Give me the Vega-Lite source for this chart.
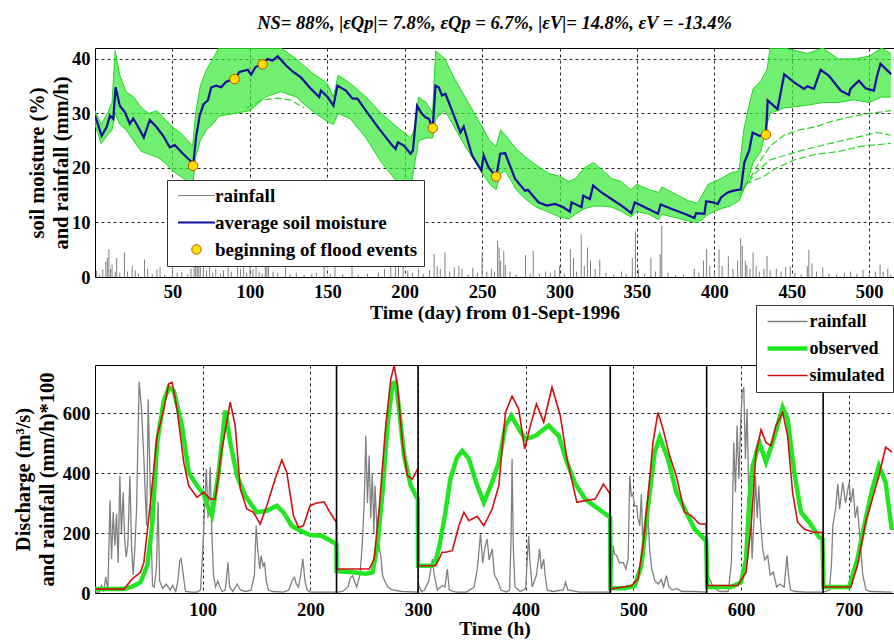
{
"$schema": "https://vega.github.io/schema/vega-lite/v6.json",
"padding": {"left": 12, "top": 14, "right": 0, "bottom": 0},
"title": {"text": "NS= 88%, |εQp|= 7.8%, εQp = 6.7%, |εV|= 14.8%, εV = -13.4%", "font": "Liberation Serif", "fontSize": 18.5, "fontStyle": "italic", "fontWeight": "bold", "anchor": "middle", "frame": "group", "offset": 15, "color": "black"},
"bounds": "flush",
"spacing": 88,
"resolve": {"scale": {"x": "independent", "y": "independent", "stroke": "independent"}, "legend": {"stroke": "independent"}},
"config": {
  "view": {"stroke": "black", "strokeWidth": 1},
  "axis": {"labelFont": "Liberation Serif", "labelFontSize": 18.5, "labelFontWeight": "bold", "labelColor": "black", "titleFont": "Liberation Serif", "titleFontSize": 19.5, "titleFontWeight": "bold", "titleColor": "black", "domain": false, "ticks": false, "gridColor": "black", "gridDash": [3, 3], "gridOpacity": 0.85, "gridWidth": 1, "labelPadding": 5},
  "legend": {"labelFont": "Liberation Serif", "labelFontWeight": "bold", "labelColor": "black", "fillColor": "white", "strokeColor": "#333333", "labelLimit": 400}
},
"datasets": {
  "band": [
{"d":0,"lo":28,"hi":30.5},{"d":4,"lo":24.5,"hi":28},{"d":8,"lo":26,"hi":30},{"d":11,"lo":27,"hi":32},{"d":13,"lo":30,"hi":41.5},{"d":16,"lo":28,"hi":37},{"d":20,"lo":27,"hi":34},{"d":25,"lo":25,"hi":33},{"d":30,"lo":23,"hi":31},{"d":35,"lo":22.5,"hi":30},{"d":40,"lo":22,"hi":30.5},{"d":45,"lo":21,"hi":29},{"d":50,"lo":19.5,"hi":27.5},{"d":55,"lo":18.5,"hi":26.5},{"d":60,"lo":17.5,"hi":25},{"d":63,"lo":16.5,"hi":24},{"d":65,"lo":22,"hi":30},{"d":68,"lo":25,"hi":35},{"d":72,"lo":27,"hi":38},{"d":76,"lo":28,"hi":40},{"d":80,"lo":29.5,"hi":42},{"d":90,"lo":30,"hi":42},{"d":100,"lo":30.5,"hi":42},{"d":110,"lo":33,"hi":42},{"d":120,"lo":34,"hi":42},{"d":130,"lo":33,"hi":40},{"d":140,"lo":30.5,"hi":37.5},{"d":150,"lo":28.5,"hi":35.5},{"d":154,"lo":28,"hi":33},{"d":157,"lo":30,"hi":37},{"d":165,"lo":29,"hi":35.5},{"d":175,"lo":25.5,"hi":33},{"d":185,"lo":21,"hi":30},{"d":195,"lo":17.5,"hi":27.5},{"d":204,"lo":16.5,"hi":25.5},{"d":206,"lo":20,"hi":27},{"d":209,"lo":25,"hi":33},{"d":214,"lo":25.5,"hi":32},{"d":218,"lo":25.5,"hi":30},{"d":220,"lo":29,"hi":41.5},{"d":226,"lo":30.5,"hi":40},{"d":231,"lo":28,"hi":37},{"d":239,"lo":24,"hi":33},{"d":248,"lo":20,"hi":28.5},{"d":255,"lo":17,"hi":25},{"d":259,"lo":16,"hi":24},{"d":262,"lo":19,"hi":27},{"d":265,"lo":19.5,"hi":26},{"d":272,"lo":16,"hi":23.5},{"d":278,"lo":14.3,"hi":22},{"d":285,"lo":12.8,"hi":20.5},{"d":293,"lo":11.9,"hi":19},{"d":300,"lo":11,"hi":18.5},{"d":306,"lo":10.6,"hi":17.5},{"d":310,"lo":11.5,"hi":18},{"d":316,"lo":12.5,"hi":20},{"d":322,"lo":13,"hi":21},{"d":328,"lo":13,"hi":19.5},{"d":334,"lo":12.8,"hi":18},{"d":340,"lo":12,"hi":17.5},{"d":346,"lo":11,"hi":16},{"d":350,"lo":12,"hi":17},{"d":358,"lo":11.5,"hi":16},{"d":364,"lo":10.5,"hi":15.5},{"d":366,"lo":11.5,"hi":16.5},{"d":373,"lo":11,"hi":15.5},{"d":383,"lo":10.3,"hi":14},{"d":389,"lo":10,"hi":13.5},{"d":392,"lo":10.5,"hi":15},{"d":396,"lo":11.5,"hi":17},{"d":404,"lo":12.5,"hi":18},{"d":410,"lo":13,"hi":19},{"d":416,"lo":14,"hi":19.5},{"d":419,"lo":16,"hi":27},{"d":422,"lo":18,"hi":31},{"d":425,"lo":21,"hi":34.5},{"d":430,"lo":23,"hi":36},{"d":434,"lo":28,"hi":38},{"d":436,"lo":30,"hi":42},{"d":445,"lo":31,"hi":42},{"d":460,"lo":31.5,"hi":41},{"d":470,"lo":32,"hi":42},{"d":480,"lo":32,"hi":40},{"d":490,"lo":32.5,"hi":40},{"d":500,"lo":32,"hi":40.5},{"d":508,"lo":33,"hi":42},{"d":514,"lo":33,"hi":41}
  ],
  "ens": [
{"m":"o1","d":98,"v":31},{"m":"o1","d":108,"v":32.5},{"m":"o1","d":118,"v":32.8},{"m":"o1","d":126,"v":32.5},{"m":"o1","d":135,"v":31},
{"m":"o2","d":416,"v":15},{"m":"o2","d":425,"v":19},{"m":"o2","d":430,"v":21.5},{"m":"o2","d":436,"v":24},{"m":"o2","d":445,"v":26},{"m":"o2","d":455,"v":27},{"m":"o2","d":465,"v":27.5},{"m":"o2","d":475,"v":28.5},{"m":"o2","d":490,"v":29.5},{"m":"o2","d":500,"v":30},{"m":"o2","d":514,"v":30.5},
{"m":"o3","d":418,"v":16},{"m":"o3","d":428,"v":19.5},{"m":"o3","d":436,"v":21.5},{"m":"o3","d":448,"v":22.5},{"m":"o3","d":460,"v":23.5},{"m":"o3","d":475,"v":24.5},{"m":"o3","d":490,"v":25.5},{"m":"o3","d":505,"v":26.5},{"m":"o3","d":514,"v":26},
{"m":"o4","d":420,"v":17},{"m":"o4","d":432,"v":18.5},{"m":"o4","d":440,"v":20},{"m":"o4","d":452,"v":21.5},{"m":"o4","d":465,"v":22.5},{"m":"o4","d":480,"v":23},{"m":"o4","d":495,"v":24},{"m":"o4","d":514,"v":24.5}
  ],
  "sm": [
{"d":0,"v":29.6},{"d":4.3,"v":25.9},{"d":7.5,"v":27.5},{"d":9.7,"v":29.6},{"d":11.8,"v":29},{"d":13.3,"v":34.8},{"d":16,"v":31.4},{"d":19.3,"v":30.2},{"d":22.5,"v":28.1},{"d":24.7,"v":29.1},{"d":27.9,"v":27.5},{"d":31.5,"v":25.6},{"d":35.4,"v":28.8},{"d":39.7,"v":27.5},{"d":44,"v":25.9},{"d":48.3,"v":23.8},{"d":51.5,"v":24.2},{"d":56.8,"v":22.6},{"d":62.8,"v":21},{"d":63.3,"v":20.4},{"d":65.4,"v":25.9},{"d":67.6,"v":29.6},{"d":70.1,"v":31.7},{"d":72.9,"v":32.4},{"d":75.1,"v":34.8},{"d":78.3,"v":35.1},{"d":81.5,"v":34.8},{"d":84.7,"v":35.8},{"d":90.1,"v":36.3},{"d":93.3,"v":37.6},{"d":98.7,"v":38},{"d":100.8,"v":37.1},{"d":103.6,"v":38.5},{"d":108.3,"v":39},{"d":111.5,"v":40},{"d":114.7,"v":39.7},{"d":118,"v":40.5},{"d":123.4,"v":38.8},{"d":127.6,"v":37.7},{"d":133,"v":36.6},{"d":139.5,"v":34.5},{"d":144.8,"v":33},{"d":145.9,"v":34.2},{"d":150.2,"v":33},{"d":154,"v":31.4},{"d":156.6,"v":35.1},{"d":162,"v":34.2},{"d":166.3,"v":32.7},{"d":169.5,"v":32.7},{"d":174.9,"v":30.5},{"d":183.4,"v":27.2},{"d":192,"v":24.1},{"d":194.1,"v":23.5},{"d":195.6,"v":24.7},{"d":199.5,"v":24.1},{"d":203.8,"v":22.6},{"d":205.3,"v":23.2},{"d":208,"v":31.4},{"d":211.3,"v":29.9},{"d":213.4,"v":29.3},{"d":215.6,"v":29},{"d":218.1,"v":27.3},{"d":219.9,"v":35.1},{"d":222,"v":34.8},{"d":224.1,"v":33.3},{"d":226.3,"v":33.6},{"d":230.6,"v":30.5},{"d":236,"v":26.5},{"d":238.1,"v":27.6},{"d":243.5,"v":22.3},{"d":249.5,"v":19.5},{"d":251,"v":22.3},{"d":254.2,"v":20.1},{"d":259.1,"v":18.4},{"d":261.7,"v":22.6},{"d":264.9,"v":22.7},{"d":271.3,"v":18},{"d":277.8,"v":15.8},{"d":279.5,"v":16},{"d":286.4,"v":13.7},{"d":291.7,"v":13.1},{"d":297.1,"v":13.4},{"d":302.4,"v":12.8},{"d":306.7,"v":12},{"d":307.8,"v":13.7},{"d":314.2,"v":12.8},{"d":315.3,"v":14.9},{"d":319.6,"v":14.3},{"d":321.7,"v":16.8},{"d":327.1,"v":15.5},{"d":333.5,"v":14.3},{"d":340,"v":13.1},{"d":346.4,"v":11.7},{"d":348.6,"v":13.7},{"d":355,"v":12.8},{"d":363.6,"v":11.6},{"d":365.3,"v":13.3},{"d":372.1,"v":12.5},{"d":380.7,"v":11.6},{"d":387.1,"v":10.8},{"d":388.2,"v":11.7},{"d":393.6,"v":11.6},{"d":394.7,"v":13.9},{"d":399,"v":13.7},{"d":402.2,"v":13.4},{"d":404.3,"v":14.6},{"d":408.6,"v":15.5},{"d":411.8,"v":15.8},{"d":417.2,"v":16.1},{"d":419.3,"v":21},{"d":422.5,"v":23.2},{"d":424.7,"v":26.5},{"d":429,"v":25.9},{"d":433.3,"v":26.1},{"d":434.4,"v":32.4},{"d":440.8,"v":30.8},{"d":445.1,"v":37.2},{"d":451.5,"v":35.7},{"d":457.9,"v":34.5},{"d":460.1,"v":35},{"d":464.3,"v":34.5},{"d":468.6,"v":38},{"d":474,"v":36.9},{"d":481.5,"v":34.2},{"d":486.9,"v":33.4},{"d":487.9,"v":34.5},{"d":493.3,"v":36},{"d":497.6,"v":34.6},{"d":503,"v":34.2},{"d":505.1,"v":36.9},{"d":507.3,"v":39.1},{"d":511.6,"v":37.9},{"d":514.2,"v":37.2}
  ],
  "flood": [
{"d":63.3,"v":20.4},{"d":90.1,"v":36.3},{"d":108.3,"v":39},{"d":218.1,"v":27.3},{"d":259.1,"v":18.4},{"d":433.3,"v":26.1}
  ],
  "rain1": [
{"d":1,"r":1.1},{"d":3,"r":0.5},{"d":5,"r":1.4},{"d":7,"r":2.9},{"d":8,"r":3.5},{"d":9,"r":5.1},{"d":10,"r":1.5},{"d":11,"r":2.3},{"d":13,"r":1},{"d":14,"r":3.5},{"d":16,"r":0.8},{"d":19,"r":4.5},{"d":21,"r":1},{"d":24,"r":2},{"d":26,"r":1.2},{"d":28,"r":0.6},{"d":32,"r":3.2},{"d":34,"r":1.5},{"d":37,"r":0.5},{"d":40,"r":1.4},{"d":42,"r":1.8},{"d":45,"r":0.4},{"d":50,"r":2},{"d":53,"r":0.8},{"d":56,"r":1},{"d":60,"r":0.5},{"d":62,"r":1.5},{"d":64,"r":4.5},{"d":65,"r":3.9},{"d":66,"r":2.5},{"d":67,"r":3.2},{"d":68,"r":1.8},{"d":70,"r":2},{"d":72,"r":1.2},{"d":74,"r":2.2},{"d":76,"r":0.8},{"d":78,"r":1.5},{"d":81,"r":0.6},{"d":83,"r":1.2},{"d":86,"r":2},{"d":88,"r":1},{"d":92,"r":4.5},{"d":94,"r":1.5},{"d":96,"r":2},{"d":98,"r":0.8},{"d":100,"r":3.2},{"d":102,"r":1.5},{"d":104,"r":2},{"d":106,"r":1},{"d":108,"r":0.6},{"d":110,"r":3.9},{"d":111,"r":3.2},{"d":112,"r":2.5},{"d":115,"r":1},{"d":118,"r":0.8},{"d":123,"r":2},{"d":126,"r":0.5},{"d":130,"r":0.8},{"d":135,"r":0.4},{"d":140,"r":0.6},{"d":143,"r":0.8},{"d":148,"r":2},{"d":152,"r":0.6},{"d":155,"r":4.2},{"d":160,"r":0.5},{"d":166,"r":2.6},{"d":170,"r":0.5},{"d":176,"r":0.6},{"d":183,"r":0.8},{"d":187,"r":1.5},{"d":191,"r":2.3},{"d":194,"r":2.5},{"d":196,"r":1.8},{"d":199,"r":3.2},{"d":202,"r":1.2},{"d":205,"r":0.8},{"d":209,"r":1.5},{"d":212,"r":0.6},{"d":216,"r":1.3},{"d":219,"r":4.2},{"d":221,"r":2},{"d":223,"r":1.5},{"d":226,"r":4.5},{"d":229,"r":1},{"d":232,"r":1.8},{"d":235,"r":2},{"d":237,"r":1.5},{"d":241,"r":0.5},{"d":244,"r":1.7},{"d":247,"r":0.8},{"d":250,"r":4.5},{"d":253,"r":1},{"d":256,"r":1.5},{"d":258,"r":1},{"d":260,"r":6.6},{"d":261,"r":5.4},{"d":262,"r":3},{"d":264,"r":4.8},{"d":265,"r":2.2},{"d":268,"r":1},{"d":272,"r":0.5},{"d":278,"r":4},{"d":281,"r":0.6},{"d":283,"r":4.8},{"d":287,"r":0.6},{"d":291,"r":1},{"d":294,"r":0.8},{"d":297,"r":1.2},{"d":300,"r":2},{"d":303,"r":0.6},{"d":307,"r":5.1},{"d":309,"r":3.5},{"d":311,"r":1},{"d":314,"r":7.8},{"d":316,"r":2},{"d":318,"r":5.4},{"d":320,"r":3},{"d":323,"r":1.5},{"d":326,"r":3.2},{"d":330,"r":0.8},{"d":335,"r":0.5},{"d":340,"r":1},{"d":343,"r":0.6},{"d":347,"r":3.5},{"d":349,"r":8.4},{"d":351,"r":1.5},{"d":355,"r":0.6},{"d":359,"r":3.5},{"d":362,"r":1},{"d":365,"r":4.2},{"d":366,"r":9.4},{"d":370,"r":0.8},{"d":375,"r":0.4},{"d":380,"r":0.5},{"d":387,"r":1.5},{"d":390,"r":0.8},{"d":393,"r":3},{"d":395,"r":5.1},{"d":397,"r":2},{"d":400,"r":1},{"d":403,"r":5.1},{"d":405,"r":2},{"d":409,"r":3.9},{"d":412,"r":1.5},{"d":415,"r":3},{"d":417,"r":7.1},{"d":418,"r":5.7},{"d":420,"r":3},{"d":421,"r":2.2},{"d":423,"r":1.5},{"d":425,"r":4.5},{"d":427,"r":2},{"d":429,"r":1},{"d":432,"r":1.5},{"d":434,"r":3.9},{"d":436,"r":1.2},{"d":440,"r":1.5},{"d":443,"r":1},{"d":446,"r":1.8},{"d":449,"r":2},{"d":452,"r":0.8},{"d":456,"r":0.5},{"d":460,"r":2},{"d":461,"r":5},{"d":463,"r":2.5},{"d":466,"r":1},{"d":470,"r":1.8},{"d":474,"r":0.6},{"d":479,"r":0.5},{"d":484,"r":0.8},{"d":488,"r":1},{"d":492,"r":0.6},{"d":496,"r":1.3},{"d":500,"r":0.5},{"d":504,"r":1},{"d":507,"r":2.3},{"d":509,"r":1},{"d":512,"r":1.5},{"d":514,"r":0.5}
  ],
  "rain2": [
{"t":0,"r":3},{"t":4,"r":3},{"t":6,"r":25},{"t":8,"r":5},{"t":10,"r":53},{"t":12,"r":10},{"t":13.9,"r":308},{"t":15.4,"r":114},{"t":16.9,"r":269},{"t":18.5,"r":158},{"t":20,"r":263},{"t":21.5,"r":100},{"t":23.1,"r":391},{"t":24.5,"r":200},{"t":26.2,"r":336},{"t":27.5,"r":180},{"t":29,"r":120},{"t":30.5,"r":160},{"t":32.4,"r":391},{"t":34,"r":150},{"t":35.5,"r":60},{"t":37,"r":150},{"t":38.6,"r":280},{"t":41,"r":704},{"t":43.2,"r":613},{"t":45.4,"r":446},{"t":47,"r":300},{"t":48,"r":224},{"t":49.4,"r":646},{"t":51,"r":400},{"t":52.5,"r":150},{"t":53.4,"r":24},{"t":55,"r":20},{"t":57,"r":80},{"t":58.6,"r":304},{"t":60,"r":40},{"t":63,"r":15},{"t":66,"r":30},{"t":70,"r":10},{"t":72,"r":25},{"t":75,"r":5},{"t":77,"r":40},{"t":78.7,"r":108},{"t":80,"r":115},{"t":82,"r":60},{"t":84,"r":5},{"t":90,"r":3},{"t":95,"r":3},{"t":98,"r":10},{"t":100.3,"r":158},{"t":102,"r":300},{"t":103.4,"r":413},{"t":105,"r":250},{"t":107,"r":420},{"t":108.5,"r":200},{"t":110,"r":60},{"t":112,"r":20},{"t":114,"r":40},{"t":116,"r":20},{"t":118,"r":5},{"t":121,"r":10},{"t":123.5,"r":102},{"t":125,"r":20},{"t":128,"r":5},{"t":132,"r":30},{"t":135,"r":10},{"t":140,"r":5},{"t":145,"r":10},{"t":148,"r":60},{"t":149.7,"r":224},{"t":151,"r":150},{"t":153,"r":80},{"t":154.3,"r":125},{"t":156,"r":90},{"t":157.4,"r":102},{"t":159,"r":40},{"t":161,"r":10},{"t":165,"r":5},{"t":175,"r":3},{"t":180,"r":10},{"t":183,"r":40},{"t":185.2,"r":53},{"t":187,"r":30},{"t":189,"r":20},{"t":191,"r":60},{"t":193,"r":114},{"t":195,"r":40},{"t":197,"r":10},{"t":200,"r":3},{"t":210,"r":3},{"t":224,"r":3},
{"t":225,"r":3},{"t":230,"r":5},{"t":235,"r":20},{"t":237,"r":50},{"t":239.2,"r":58},{"t":241,"r":40},{"t":243,"r":20},{"t":246,"r":60},{"t":248,"r":150},{"t":250,"r":300},{"t":251.5,"r":524},{"t":253,"r":300},{"t":254.6,"r":458},{"t":256,"r":250},{"t":257.5,"r":400},{"t":259,"r":200},{"t":260,"r":358},{"t":262,"r":200},{"t":264,"r":150},{"t":265.4,"r":125},{"t":267,"r":60},{"t":269,"r":40},{"t":272,"r":20},{"t":276,"r":10},{"t":285,"r":5},{"t":300,"r":3},
{"t":300.9,"r":25},{"t":303,"r":5},{"t":306,"r":10},{"t":310,"r":40},{"t":313.3,"r":113},{"t":315,"r":60},{"t":318,"r":10},{"t":322.5,"r":25},{"t":325,"r":20},{"t":327.2,"r":80},{"t":329,"r":10},{"t":335,"r":3},{"t":345,"r":3},{"t":352,"r":20},{"t":355,"r":80},{"t":358,"r":197},{"t":360,"r":100},{"t":362,"r":150},{"t":364.2,"r":180},{"t":366,"r":110},{"t":368.8,"r":147},{"t":371,"r":60},{"t":374,"r":40},{"t":377,"r":10},{"t":382,"r":3},{"t":385,"r":10},{"t":386.5,"r":200},{"t":387.3,"r":447},{"t":388.5,"r":150},{"t":390,"r":20},{"t":395,"r":5},{"t":400,"r":15},{"t":401.5,"r":120},{"t":402.8,"r":191},{"t":404,"r":100},{"t":406,"r":20},{"t":410,"r":60},{"t":412.9,"r":147},{"t":414.5,"r":80},{"t":416.7,"r":113},{"t":418,"r":60},{"t":420,"r":10},{"t":425,"r":5},{"t":435,"r":10},{"t":437,"r":36},{"t":439,"r":10},{"t":450,"r":3},{"t":478,"r":3},
{"t":479,"r":5},{"t":481.2,"r":158},{"t":482.5,"r":130},{"t":484.3,"r":125},{"t":487,"r":100},{"t":490.5,"r":102},{"t":493,"r":80},{"t":495.1,"r":113},{"t":496.6,"r":391},{"t":498.1,"r":324},{"t":499.5,"r":330},{"t":501,"r":290},{"t":503,"r":291},{"t":504.3,"r":247},{"t":505.9,"r":224},{"t":507.4,"r":330},{"t":509,"r":130},{"t":511,"r":200},{"t":513,"r":291},{"t":515,"r":150},{"t":517,"r":80},{"t":520,"r":40},{"t":523,"r":30},{"t":526,"r":45},{"t":528,"r":20},{"t":530.6,"r":58},{"t":533,"r":20},{"t":536,"r":10},{"t":540,"r":15},{"t":545,"r":5},{"t":555,"r":5},{"t":568,"r":3},
{"t":568.5,"r":58},{"t":571,"r":45},{"t":574,"r":20},{"t":580,"r":5},{"t":588,"r":5},{"t":591,"r":100},{"t":593.2,"r":502},{"t":594.8,"r":336},{"t":596.3,"r":558},{"t":598,"r":380},{"t":599.4,"r":547},{"t":601,"r":669},{"t":602.5,"r":686},{"t":604,"r":447},{"t":605.6,"r":613},{"t":607.1,"r":313},{"t":608.5,"r":400},{"t":610.2,"r":113},{"t":612,"r":250},{"t":613.3,"r":391},{"t":615,"r":250},{"t":616.4,"r":358},{"t":617.9,"r":247},{"t":620,"r":150},{"t":622,"r":110},{"t":624.7,"r":125},{"t":627,"r":60},{"t":630,"r":70},{"t":633,"r":20},{"t":636,"r":30},{"t":640,"r":20},{"t":642.6,"r":125},{"t":644,"r":60},{"t":646,"r":10},{"t":650,"r":5},{"t":660,"r":3},{"t":676,"r":3},
{"t":676.5,"r":3},{"t":682,"r":10},{"t":684,"r":100},{"t":685.2,"r":224},{"t":687.7,"r":280},{"t":689.8,"r":363},{"t":691.5,"r":280},{"t":694.4,"r":369},{"t":697,"r":300},{"t":700.3,"r":369},{"t":702,"r":300},{"t":704,"r":350},{"t":706,"r":250},{"t":708,"r":290},{"t":711.4,"r":136},{"t":713,"r":60},{"t":716,"r":10},{"t":720,"r":5},{"t":740,"r":3}
  ],
  "q": [
{"s":"observed","t":0,"q":13},{"s":"observed","t":26.9,"q":13},{"s":"observed","t":35,"q":22},{"s":"observed","t":42.3,"q":36},{"s":"observed","t":48.5,"q":91},{"s":"observed","t":53.1,"q":224},{"s":"observed","t":57.7,"q":502},{"s":"observed","t":63.9,"q":641},{"s":"observed","t":68.5,"q":686},{"s":"observed","t":73.1,"q":674},{"s":"observed","t":80.8,"q":558},{"s":"observed","t":87,"q":402},{"s":"observed","t":94.7,"q":358},{"s":"observed","t":100.9,"q":330},{"s":"observed","t":105.6,"q":280},{"s":"observed","t":108.6,"q":258},{"s":"observed","t":114.8,"q":402},{"s":"observed","t":121,"q":608},{"s":"observed","t":125.6,"q":502},{"s":"observed","t":131.8,"q":391},{"s":"observed","t":139.5,"q":324},{"s":"observed","t":150.3,"q":269},{"s":"observed","t":159.6,"q":274},{"s":"observed","t":168.8,"q":291},{"s":"observed","t":175,"q":269},{"s":"observed","t":182.7,"q":224},{"s":"observed","t":190.4,"q":208},{"s":"observed","t":199.7,"q":193},{"s":"observed","t":210.5,"q":191},{"s":"observed","t":224.2,"q":163},
{"s":"observed","t":224.4,"q":73},{"s":"observed","t":239.2,"q":69},{"s":"observed","t":251.5,"q":64},{"s":"observed","t":257.7,"q":69},{"s":"observed","t":262.3,"q":158},{"s":"observed","t":267,"q":336},{"s":"observed","t":271.6,"q":558},{"s":"observed","t":276.2,"q":697},{"s":"observed","t":279.3,"q":702},{"s":"observed","t":282.4,"q":613},{"s":"observed","t":287,"q":458},{"s":"observed","t":293.2,"q":358},{"s":"observed","t":299.8,"q":313},
{"s":"observed","t":300,"q":91},{"s":"observed","t":313.3,"q":91},{"s":"observed","t":317,"q":115},{"s":"observed","t":320,"q":160},{"s":"observed","t":325,"q":260},{"s":"observed","t":330,"q":380},{"s":"observed","t":336,"q":450},{"s":"observed","t":341,"q":474},{"s":"observed","t":347.2,"q":447},{"s":"observed","t":354.9,"q":358},{"s":"observed","t":361.1,"q":302},{"s":"observed","t":368.8,"q":369},{"s":"observed","t":375,"q":436},{"s":"observed","t":381.2,"q":558},{"s":"observed","t":386.7,"q":591},{"s":"observed","t":393.5,"q":547},{"s":"observed","t":399.7,"q":513},{"s":"observed","t":409,"q":524},{"s":"observed","t":421.3,"q":558},{"s":"observed","t":430.6,"q":524},{"s":"observed","t":438.3,"q":436},{"s":"observed","t":446,"q":364},{"s":"observed","t":455.2,"q":313},{"s":"observed","t":467.6,"q":280},{"s":"observed","t":478.4,"q":252},
{"s":"observed","t":478.7,"q":16},{"s":"observed","t":492,"q":16},{"s":"observed","t":501.2,"q":24},{"s":"observed","t":507.4,"q":91},{"s":"observed","t":513.6,"q":291},{"s":"observed","t":519.8,"q":469},{"s":"observed","t":524.4,"q":519},{"s":"observed","t":532.1,"q":447},{"s":"observed","t":539.8,"q":336},{"s":"observed","t":547.5,"q":280},{"s":"observed","t":556.8,"q":213},{"s":"observed","t":567.6,"q":174},
{"s":"observed","t":568.5,"q":20},{"s":"observed","t":590.7,"q":20},{"s":"observed","t":600,"q":36},{"s":"observed","t":604.6,"q":113},{"s":"observed","t":607.7,"q":313},{"s":"observed","t":610.8,"q":424},{"s":"observed","t":617,"q":502},{"s":"observed","t":623.1,"q":436},{"s":"observed","t":629.3,"q":502},{"s":"observed","t":638.6,"q":619},{"s":"observed","t":643.2,"q":580},{"s":"observed","t":649.4,"q":402},{"s":"observed","t":655.6,"q":269},{"s":"observed","t":663.3,"q":236},{"s":"observed","t":672.5,"q":186},{"s":"observed","t":675.6,"q":180},
{"s":"observed","t":676.5,"q":20},{"s":"observed","t":700.3,"q":20},{"s":"observed","t":708,"q":113},{"s":"observed","t":715.7,"q":247},{"s":"observed","t":721.9,"q":347},{"s":"observed","t":728,"q":424},{"s":"observed","t":734.2,"q":369},{"s":"observed","t":740,"q":210},
{"s":"simulated","t":0,"q":13},{"s":"simulated","t":26.9,"q":13},{"s":"simulated","t":34.6,"q":47},{"s":"simulated","t":42.3,"q":69},{"s":"simulated","t":45.4,"q":102},{"s":"simulated","t":51.5,"q":302},{"s":"simulated","t":57.7,"q":524},{"s":"simulated","t":63.9,"q":613},{"s":"simulated","t":68.5,"q":697},{"s":"simulated","t":71.6,"q":702},{"s":"simulated","t":76.2,"q":613},{"s":"simulated","t":82.4,"q":436},{"s":"simulated","t":87,"q":358},{"s":"simulated","t":94.7,"q":319},{"s":"simulated","t":100.9,"q":336},{"s":"simulated","t":107.1,"q":313},{"s":"simulated","t":111.7,"q":313},{"s":"simulated","t":117.9,"q":480},{"s":"simulated","t":125.6,"q":636},{"s":"simulated","t":130.2,"q":558},{"s":"simulated","t":134.9,"q":347},{"s":"simulated","t":141,"q":280},{"s":"simulated","t":147.2,"q":269},{"s":"simulated","t":153.4,"q":230},{"s":"simulated","t":159.6,"q":291},{"s":"simulated","t":167.3,"q":380},{"s":"simulated","t":173.5,"q":443},{"s":"simulated","t":178.1,"q":402},{"s":"simulated","t":184.3,"q":258},{"s":"simulated","t":188.9,"q":219},{"s":"simulated","t":193.5,"q":224},{"s":"simulated","t":199.7,"q":291},{"s":"simulated","t":205.9,"q":300},{"s":"simulated","t":212.7,"q":304},{"s":"simulated","t":218.2,"q":269},{"s":"simulated","t":224.2,"q":236},
{"s":"simulated","t":224.4,"q":80},{"s":"simulated","t":254.6,"q":80},{"s":"simulated","t":259.2,"q":113},{"s":"simulated","t":263.9,"q":280},{"s":"simulated","t":270,"q":558},{"s":"simulated","t":274.7,"q":713},{"s":"simulated","t":277.8,"q":758},{"s":"simulated","t":280.9,"q":691},{"s":"simulated","t":285.5,"q":502},{"s":"simulated","t":290.1,"q":391},{"s":"simulated","t":294.8,"q":380},{"s":"simulated","t":299.8,"q":415},
{"s":"simulated","t":300,"q":91},{"s":"simulated","t":316.4,"q":91},{"s":"simulated","t":322.5,"q":136},{"s":"simulated","t":325.6,"q":136},{"s":"simulated","t":331.8,"q":141},{"s":"simulated","t":337.9,"q":224},{"s":"simulated","t":342.6,"q":269},{"s":"simulated","t":347.2,"q":241},{"s":"simulated","t":354.9,"q":256},{"s":"simulated","t":361.1,"q":224},{"s":"simulated","t":368.8,"q":280},{"s":"simulated","t":375,"q":358},{"s":"simulated","t":381.2,"q":602},{"s":"simulated","t":387.3,"q":656},{"s":"simulated","t":393.5,"q":613},{"s":"simulated","t":399,"q":480},{"s":"simulated","t":404.3,"q":558},{"s":"simulated","t":409.9,"q":630},{"s":"simulated","t":416.7,"q":569},{"s":"simulated","t":424.4,"q":686},{"s":"simulated","t":432.1,"q":591},{"s":"simulated","t":438.3,"q":447},{"s":"simulated","t":447.5,"q":302},{"s":"simulated","t":455.2,"q":308},{"s":"simulated","t":464.5,"q":313},{"s":"simulated","t":472.2,"q":363},{"s":"simulated","t":478.4,"q":330},
{"s":"simulated","t":478.7,"q":13},{"s":"simulated","t":498.1,"q":24},{"s":"simulated","t":504.3,"q":47},{"s":"simulated","t":508.9,"q":158},{"s":"simulated","t":513.6,"q":324},{"s":"simulated","t":518.2,"q":502},{"s":"simulated","t":522.8,"q":602},{"s":"simulated","t":527.5,"q":547},{"s":"simulated","t":533.6,"q":458},{"s":"simulated","t":539.8,"q":391},{"s":"simulated","t":547.5,"q":269},{"s":"simulated","t":553.7,"q":258},{"s":"simulated","t":561.4,"q":230},{"s":"simulated","t":567.6,"q":230},
{"s":"simulated","t":568.5,"q":25},{"s":"simulated","t":596.9,"q":25},{"s":"simulated","t":604.6,"q":69},{"s":"simulated","t":609.3,"q":224},{"s":"simulated","t":613.9,"q":469},{"s":"simulated","t":618.5,"q":544},{"s":"simulated","t":623.1,"q":502},{"s":"simulated","t":627.8,"q":491},{"s":"simulated","t":632.4,"q":558},{"s":"simulated","t":638.6,"q":602},{"s":"simulated","t":643.2,"q":524},{"s":"simulated","t":647.8,"q":336},{"s":"simulated","t":652.5,"q":236},{"s":"simulated","t":658.6,"q":213},{"s":"simulated","t":667.9,"q":202},{"s":"simulated","t":675.6,"q":202},
{"s":"simulated","t":676.5,"q":20},{"s":"simulated","t":701.9,"q":20},{"s":"simulated","t":708,"q":91},{"s":"simulated","t":715.7,"q":236},{"s":"simulated","t":721.9,"q":313},{"s":"simulated","t":728,"q":391},{"s":"simulated","t":734.2,"q":486},{"s":"simulated","t":740,"q":470}
  ],
  "bounds": [{"t":224.3},{"t":300},{"t":478.5},{"t":568},{"t":676.2}]
},
"vconcat": [
 {
  "width": 799, "height": 229,
  "layer": [
   {"data": {"name": "band"}, "mark": {"type": "area", "color": "#33e833", "opacity": 0.7, "clip": true},
    "encoding": {
     "x": {"field": "d", "type": "quantitative", "scale": {"domain": [0, 516], "nice": false, "zero": false}, "axis": {"values": [50,100,150,200,250,300,350,400,450,500], "title": "Time (day) from 01-Sept-1996", "labelPadding": 5, "titlePadding": 3}},
     "y": {"field": "lo", "type": "quantitative", "scale": {"domain": [0, 42], "nice": false}, "axis": {"values": [0,10,20,30,40], "title": ["soil moisture (%)", "and rainfall (mm/h)"], "titleFontSize": 20.5, "titlePadding": 0, "titleLineHeight": 24}},
     "y2": {"field": "hi"}
    }},
   {"data": {"name": "band"}, "mark": {"type": "line", "color": "#22d822", "strokeWidth": 1, "clip": true},
    "encoding": {"x": {"field": "d", "type": "quantitative"}, "y": {"field": "hi", "type": "quantitative"}}},
   {"data": {"name": "band"}, "mark": {"type": "line", "color": "#22d822", "strokeWidth": 1, "clip": true},
    "encoding": {"x": {"field": "d", "type": "quantitative"}, "y": {"field": "lo", "type": "quantitative"}}},
   {"data": {"name": "ens"}, "mark": {"type": "line", "color": "#22d822", "strokeWidth": 1.2, "strokeDash": [7, 3], "clip": true},
    "encoding": {"x": {"field": "d", "type": "quantitative"}, "y": {"field": "v", "type": "quantitative"}, "detail": {"field": "m"}}},
   {"data": {"name": "rain1"}, "mark": {"type": "rule", "strokeWidth": 1, "clip": true},
    "encoding": {"x": {"field": "d", "type": "quantitative"}, "y": {"field": "r", "type": "quantitative"}, "y2": {"datum": 0},
     "stroke": {"datum": "rainfall", "type": "nominal", "title": null,
       "scale": {"domain": ["rainfall", "average soil moisture", "beginning of flood events"], "range": ["#808080", "#10109a", "#c84a00"]},
       "legend": {"orient": "none", "legendX": 72, "legendY": 132, "symbolSize": 90, "padding": 6, "rowPadding": 7, "symbolOffset": 14, "labelOffset": 9, "labelFontSize": 19,
         "encode": {"symbols": {"update": {
           "shape": {"signal": "datum.value === 'beginning of flood events' ? 'circle' : 'M-3.9,0H3.9'"},
           "fill": {"signal": "datum.value === 'beginning of flood events' ? '#ffe000' : 'transparent'"},
           "strokeWidth": {"signal": "datum.value === 'average soil moisture' ? 2.2 : 1"},
           "opacity": {"value": 1}
         }}}}}
    }},
   {"data": {"name": "sm"}, "mark": {"type": "line", "strokeWidth": 2.2, "clip": true},
    "encoding": {"x": {"field": "d", "type": "quantitative"}, "y": {"field": "v", "type": "quantitative"},
     "stroke": {"datum": "average soil moisture", "type": "nominal", "title": null}}},
   {"data": {"name": "flood"}, "mark": {"type": "point", "shape": "circle", "filled": true, "fill": "#ffe000", "size": 90, "strokeWidth": 1, "opacity": 1},
    "encoding": {"x": {"field": "d", "type": "quantitative"}, "y": {"field": "v", "type": "quantitative"},
     "stroke": {"datum": "beginning of flood events", "type": "nominal", "title": null}}}
  ]
 },
 {
  "width": 799, "height": 228,
  "layer": [
   {"data": {"name": "rain2"}, "mark": {"type": "line", "strokeWidth": 1.3, "clip": true},
    "encoding": {
     "x": {"field": "t", "type": "quantitative", "scale": {"domain": [0, 742], "nice": false, "zero": false}, "axis": {"values": [100,200,300,400,500,600,700], "title": "Time (h)", "labelPadding": 7, "titlePadding": 1}},
     "y": {"field": "r", "type": "quantitative", "scale": {"domain": [0, 760], "nice": false}, "axis": {"values": [0,200,400,600], "title": ["Discharge (m³/s)", "and rainfall (mm/h)*100"], "titleFontSize": 20.5, "titlePadding": 5, "titleLineHeight": 24}},
     "stroke": {"datum": "rainfall", "type": "nominal", "title": null,
       "scale": {"domain": ["rainfall", "observed", "simulated"], "range": ["#808080", "#22e622", "#d01010"]},
       "legend": {"orient": "none", "legendX": 661, "legendY": -60, "symbolSize": 100, "symbolType": "M-4,0H4", "padding": 7.5, "rowPadding": 9, "symbolOffset": 15, "labelOffset": 13, "labelFontSize": 18,
         "encode": {"symbols": {"update": {
           "shape": {"value": "M-4,0H4"},
           "strokeWidth": {"signal": "datum.value === 'observed' ? 4.5 : (datum.value === 'simulated' ? 1.6 : 1.3)"},
           "opacity": {"value": 1}
         }}}}}
    }},
   {"data": {"name": "q"}, "transform": [{"filter": "datum.s === 'observed'"}], "mark": {"type": "line", "strokeWidth": 4.5, "clip": true},
    "encoding": {"x": {"field": "t", "type": "quantitative"}, "y": {"field": "q", "type": "quantitative"},
     "stroke": {"field": "s", "type": "nominal", "title": null}}},
   {"data": {"name": "q"}, "transform": [{"filter": "datum.s === 'simulated'"}], "mark": {"type": "line", "strokeWidth": 1.6, "clip": true},
    "encoding": {"x": {"field": "t", "type": "quantitative"}, "y": {"field": "q", "type": "quantitative"},
     "stroke": {"field": "s", "type": "nominal", "title": null}}},
   {"data": {"name": "bounds"}, "mark": {"type": "rule", "color": "black", "strokeWidth": 1.6},
    "encoding": {"x": {"field": "t", "type": "quantitative"}}}
  ]
 }
]
}
